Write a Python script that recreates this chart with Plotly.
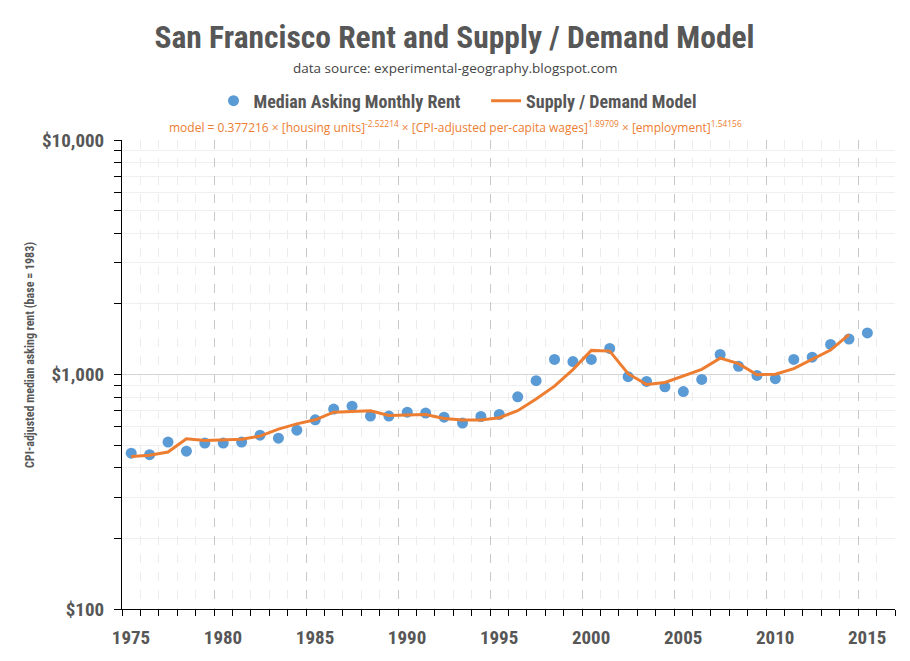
import plotly.graph_objects as go

years_rent = [1975.5 + i for i in range(41)]
rent = [462, 455, 515, 471, 510, 510, 515, 551, 535, 579,
        641, 712, 733, 665, 665, 691, 685, 658, 621, 662,
        676, 803, 941, 1159, 1135, 1159, 1292, 979, 934, 886,
        846, 953, 1217, 1084, 991, 960, 1159, 1185, 1344, 1417,
        1504]

years_model = [1975.5 + i for i in range(40)]
model = [447, 453, 467, 532, 523, 525, 530, 546, 585, 616,
         641, 691, 693, 700, 669, 671, 675, 649, 639, 639,
         654, 701, 787, 892, 1049, 1267, 1258, 1008, 907, 925,
         985, 1052, 1174, 1113, 998, 1002, 1060, 1159, 1271, 1479]

x_tickvals = [1975, 1980, 1985, 1990, 1995, 2000, 2005, 2010, 2015]
x_ticktext = ["1975", "1980", "1985", "1990", "1995", "2000", "2005", "2010", "2015"]
y_tickvals = [100, 1000, 10000]
y_ticktext = ["$100", "$1,000", "$10,000"]

COND = ("Roboto Condensed, Noto Sans Condensed, DejaVu Sans Condensed, "
        "Liberation Sans Narrow, Arial Narrow, sans-serif")
BLUE = "#5b9bd5"
ORANGE = "#ed7d31"
GREY = "#575757"

# the page body adds an 8px offset; positions below compensate for it
OFF = 8
W, H = 910, 661
L, T = 122 - OFF, 140 - OFF
PW, PH = 773, 469

fig = go.Figure()
fig.add_trace(go.Scatter(
    x=years_rent, y=rent, mode="markers",
    name="Median Asking Monthly Rent" + "\u00a0" * 5,
    marker=dict(color=BLUE, size=11),
))
fig.add_trace(go.Scatter(
    x=years_model, y=model, mode="lines", name="Supply / Demand Model",
    line=dict(color=ORANGE, width=3),
))

fig.update_layout(
    width=W, height=H,
    margin=dict(l=L, r=W - L - PW, t=T, b=H - T - PH, autoexpand=False),
    paper_bgcolor="white", plot_bgcolor="white",
    title=dict(text="San Francisco Rent and Supply / Demand Model",
               x=(454.5 - OFF) / W, xref="container", xanchor="center",
               y=1 - (37 - OFF) / H, yref="container", yanchor="middle",
               font=dict(family=COND, size=31.5, color=GREY, weight="bold")),
    legend=dict(orientation="h", x=(458 - OFF) / W, xref="container", xanchor="center",
                y=1 - (101 - OFF) / H, yref="container", yanchor="middle",
                font=dict(family=COND, size=18, color=GREY, weight="bold"),
                itemwidth=30, bgcolor="rgba(0,0,0,0)"),
    showlegend=True,
)

fig.update_xaxes(
    range=[1975, 2017], tickmode="array", tickvals=x_tickvals, ticktext=x_ticktext,
    ticks="outside", ticklen=6, tickcolor="#000", tickwidth=1,
    showline=True, linecolor="#000", linewidth=1,
    showgrid=True, gridcolor="#c8c8c8", griddash="dash", gridwidth=1,
    zeroline=False, automargin=False,
    ticklabelshift=9, ticklabelstandoff=5,
    tickfont=dict(family=COND, size=19, color=GREY, weight="bold"),
    minor=dict(dtick=1, tick0=1975, ticks="outside", ticklen=6, tickcolor="#000",
               showgrid=True, gridcolor="#ececec", gridwidth=1),
)

fig.update_yaxes(
    type="log", range=[2, 4], tickmode="array", tickvals=y_tickvals, ticktext=y_ticktext,
    ticks="outside", ticklen=7, tickcolor="#000", tickwidth=1,
    showline=True, linecolor="#000", linewidth=1,
    showgrid=True, gridcolor="#d4d4d4", gridwidth=1,
    zeroline=False, automargin=False,
    ticklabelstandoff=6,
    tickfont=dict(family=COND, size=19, color=GREY, weight="bold"),
    minor=dict(dtick="D1", ticks="outside", ticklen=7,
               tickcolor="#000", showgrid=True, gridcolor="#efefef", gridwidth=1),
)

fig.add_annotation(
    text="data source: experimental-geography.blogspot.com",
    xref="paper", yref="paper", x=(455 - 122) / PW, y=(609 - 68) / PH,
    xanchor="center", yanchor="middle", showarrow=False,
    font=dict(family="Open Sans, sans-serif", size=13.5, color="#444"),
)
fig.add_annotation(
    text="model = 0.377216 × [housing units]<sup>-2.52214</sup> × [CPI-adjusted per-capita wages]<sup>1.89709</sup> × [employment]<sup>1.54156</sup>",
    xref="paper", yref="paper", x=(455 - 122) / PW, y=(609 - 127) / PH,
    xanchor="center", yanchor="middle", showarrow=False,
    font=dict(family="Open Sans, sans-serif", size=12, color=ORANGE),
)
fig.add_annotation(
    text="CPI-adjusted median asking rent (base = 1983)",
    xref="paper", yref="paper", x=(30 - 122) / PW, y=(609 - 355) / PH,
    xanchor="center", yanchor="middle", showarrow=False, textangle=-90,
    font=dict(family=COND, size=12, color=GREY, weight="bold"),
)

fig.write_html("out.html")
